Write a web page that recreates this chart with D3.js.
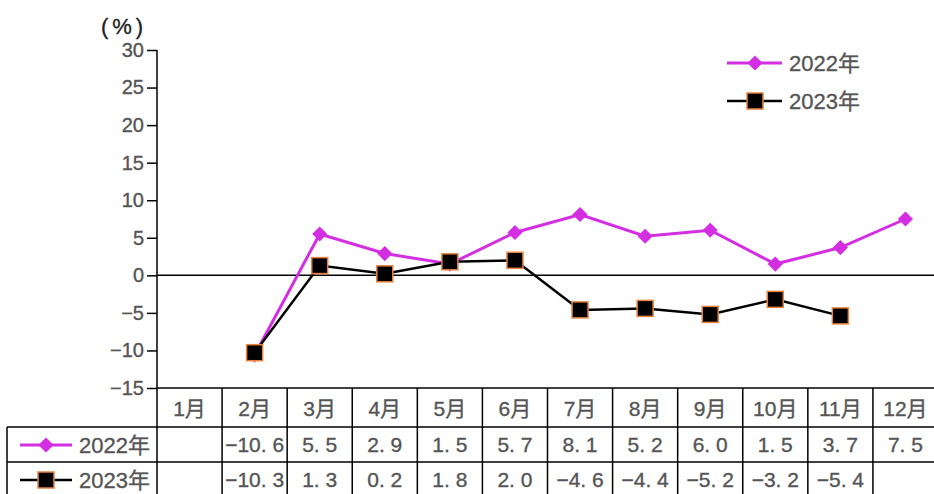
<!DOCTYPE html>
<html>
<head>
<meta charset="utf-8">
<script src="https://cdn.jsdelivr.net/npm/d3@7"></script>
<style>
    body { margin: 0; background: #fff; }
    svg { display: block; }
    text { stroke: currentColor; stroke-width: 0.35px; }
</style>
</head>
<body>
<svg id="chart" width="934" height="494"></svg>
<script>
// month labels and yearly growth (%) per month, null = no data
const months = ["1月", "2月", "3月", "4月", "5月", "6月", "7月", "8月", "9月", "10月", "11月", "12月"];
const series2022 = [null, -10.6, 5.5, 2.9, 1.5, 5.7, 8.1, 5.2, 6.0, 1.5, 3.7, 7.5];
const series2023 = [null, -10.3, 1.3, 0.2, 1.8, 2.0, -4.6, -4.4, -5.2, -3.2, -5.4, null];
const seriesNames = ["2022年", "2023年"];
const yTicks = [30, 25, 20, 15, 10, 5, 0, -5, -10, -15];

const magenta = "#d42ee2";
const orange = "#e8823e";
const grey = "#555555";
const font = "'Liberation Sans', Arial, 'Noto Sans CJK SC', sans-serif";

let svg = d3.select("#chart");

let x = d3.scaleBand()
    .domain(months)
    .range([157, 938]);

let y = d3.scaleLinear()
    .domain([-15, 30])
    .range([388, 50]);

// y axis
let yAxis = svg.append("g")
    .attr("transform", "translate(157,0)")
    .call(d3.axisLeft(y).tickValues(yTicks).tickSize(10).tickPadding(3));
yAxis.select(".domain").attr("stroke", "#000").attr("stroke-width", 1.5)
    .attr("d", "M0," + y(30) + "V" + y(-15));
yAxis.selectAll(".tick line").attr("stroke", "#000").attr("stroke-width", 1.5);
yAxis.selectAll(".tick text")
    .attr("fill", grey)
    .style("color", grey)
    .style("font-family", font)
    .style("font-size", "20px");

svg.append("text")
    .attr("x", 124)
    .attr("y", 34)
    .attr("text-anchor", "middle")
    .attr("fill", "#222")
    .style("color", "#222")
    .style("letter-spacing", "4px")
    .style("font-family", font)
    .style("font-size", "22px")
    .text("(%)");

// zero line
svg.append("line")
    .attr("x1", 157).attr("x2", 934)
    .attr("y1", y(0)).attr("y2", y(0))
    .attr("stroke", "#000").attr("stroke-width", 1.5);

// lines
function cx(i) {
    return x(months[i]) + x.bandwidth() / 2;
}

let line = d3.line()
    .defined(d => d !== null)
    .x((d, i) => cx(i))
    .y(d => y(d));

svg.append("path")
    .datum(series2022)
    .attr("fill", "none")
    .attr("stroke", magenta)
    .attr("stroke-width", 3)
    .attr("d", line);

svg.append("path")
    .datum(series2023)
    .attr("fill", "none")
    .attr("stroke", "#000")
    .attr("stroke-width", 2.5)
    .attr("d", line);

let diamond = d3.symbol().type(d3.symbolSquare).size(115);

function drawDiamond(g, px, py) {
    g.append("path")
        .attr("d", diamond())
        .attr("transform", `translate(${px},${py}) rotate(45)`)
        .attr("fill", magenta);
}

function drawSquare(g, px, py) {
    g.append("rect")
        .attr("x", px - 8).attr("y", py - 8)
        .attr("width", 16).attr("height", 16)
        .attr("fill", "#000")
        .attr("stroke", orange)
        .attr("stroke-width", 1.5);
}

let markers = svg.append("g");
series2022.forEach((v, i) => {
    if (v !== null) drawDiamond(markers, cx(i), y(v));
});
series2023.forEach((v, i) => {
    if (v !== null) drawSquare(markers, cx(i), y(v));
});

// legend
function legendEntry(g, lx, ly, idx, len, mid, size) {
    g.append("line")
        .attr("x1", lx).attr("x2", lx + len)
        .attr("y1", ly).attr("y2", ly)
        .attr("stroke", idx === 0 ? magenta : "#000")
        .attr("stroke-width", idx === 0 ? 3 : 2.5);
    if (idx === 0) drawDiamond(g, lx + mid, ly);
    else drawSquare(g, lx + mid, ly);
    g.append("text")
        .attr("x", lx + len + 7)
        .attr("y", ly + 8)
        .attr("fill", grey)
        .style("color", grey)
        .style("font-family", font)
        .style("font-size", size + "px")
        .text(seriesNames[idx]);
}

let legend = svg.append("g");
legendEntry(legend, 727, 63, 0, 55, 28, 22);
legendEntry(legend, 727, 101, 1, 55, 28, 22);

// data table under the axis
let table = svg.append("g");
const rowTop = [388, 427, 462];

function gridLine(x1, y1, x2, y2) {
    table.append("line")
        .attr("x1", x1).attr("y1", y1).attr("x2", x2).attr("y2", y2)
        .attr("stroke", "#000")
        .attr("stroke-width", 1.5);
}

gridLine(157, rowTop[0], 934, rowTop[0]);
gridLine(7, rowTop[1], 934, rowTop[1]);
gridLine(7, rowTop[2], 934, rowTop[2]);
gridLine(7, rowTop[1], 7, 494);
months.forEach(m => gridLine(x(m), rowTop[0], x(m), 494));

table.selectAll(".month")
    .data(months)
    .enter()
    .append("text")
    .attr("class", "month")
    .attr("x", d => x(d) + x.bandwidth() / 2)
    .attr("y", 416)
    .attr("text-anchor", "middle")
    .attr("fill", grey)
    .style("color", grey)
    .style("font-family", font)
    .style("font-size", "21px")
    .text(d => d);

function fmt(v) {
    return d3.format(".1f")(v).replace(".", ". ");
}

// values by month index
[series2022, series2023].forEach((s, r) => {
    s.forEach((v, i) => {
        if (v === null) return;
        table.append("text")
            .attr("x", cx(i))
            .attr("y", 452 + r * 35)
            .attr("text-anchor", "middle")
            .attr("fill", grey)
            .style("color", grey)
            .style("font-family", font)
            .style("font-size", "21px")
            .text(fmt(v));
    });
});

legendEntry(table, 20, 445, 0, 52, 26, 22);
legendEntry(table, 20, 480, 1, 52, 26, 22);
</script>
</body>
</html>
